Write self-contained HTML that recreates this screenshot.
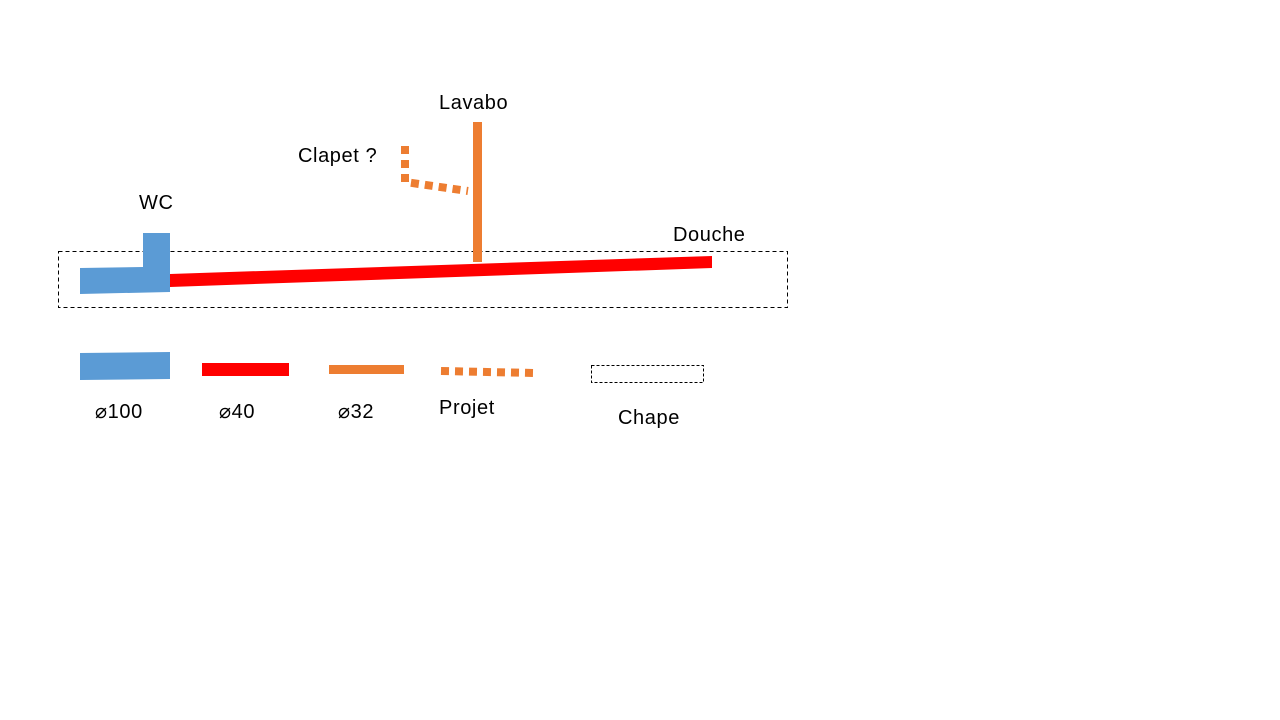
<!DOCTYPE html>
<html><head><meta charset="utf-8"><style>
html,body{margin:0;padding:0;background:#fff;}
svg{display:block;}
text{font-family:"Liberation Sans","DejaVu Sans",sans-serif;font-size:20px;letter-spacing:0.6px;fill:#000;}
</style></head><body>
<svg width="1280" height="720" xmlns="http://www.w3.org/2000/svg">
<rect x="58.5" y="251.5" width="729" height="56" fill="none" stroke="#000" stroke-width="1" stroke-dasharray="4,3"/>
<polygon points="80,268 143,267 143,233 170,233 170,292 80,294" fill="#5b9bd5"/>
<polygon points="170,274 712,256 712,268 170,287" fill="#ff0000"/>
<rect x="473" y="122" width="9" height="140" fill="#ed7d31"/>
<polyline points="405,146 405,182 468,191" fill="none" stroke="#ed7d31" stroke-width="8" stroke-dasharray="8,6"/>
<text x="439" y="109">Lavabo</text>
<text x="298" y="162">Clapet ?</text>
<text x="139" y="209">WC</text>
<text x="673" y="241">Douche</text>
<polygon points="80,353 170,352 170,379 80,380" fill="#5b9bd5"/>
<rect x="202" y="363" width="87" height="13" fill="#ff0000"/>
<rect x="329" y="365" width="75" height="9" fill="#ed7d31"/>
<line x1="441" y1="371" x2="535" y2="373" stroke="#ed7d31" stroke-width="8" stroke-dasharray="8,6"/>
<rect x="591.5" y="365.5" width="112" height="17" fill="none" stroke="#000" stroke-width="1" stroke-dasharray="3,2"/>
<text x="95" y="418">⌀100</text>
<text x="219" y="418">⌀40</text>
<text x="338" y="418">⌀32</text>
<text x="439" y="414">Projet</text>
<text x="618" y="424">Chape</text>
</svg>
</body></html>
